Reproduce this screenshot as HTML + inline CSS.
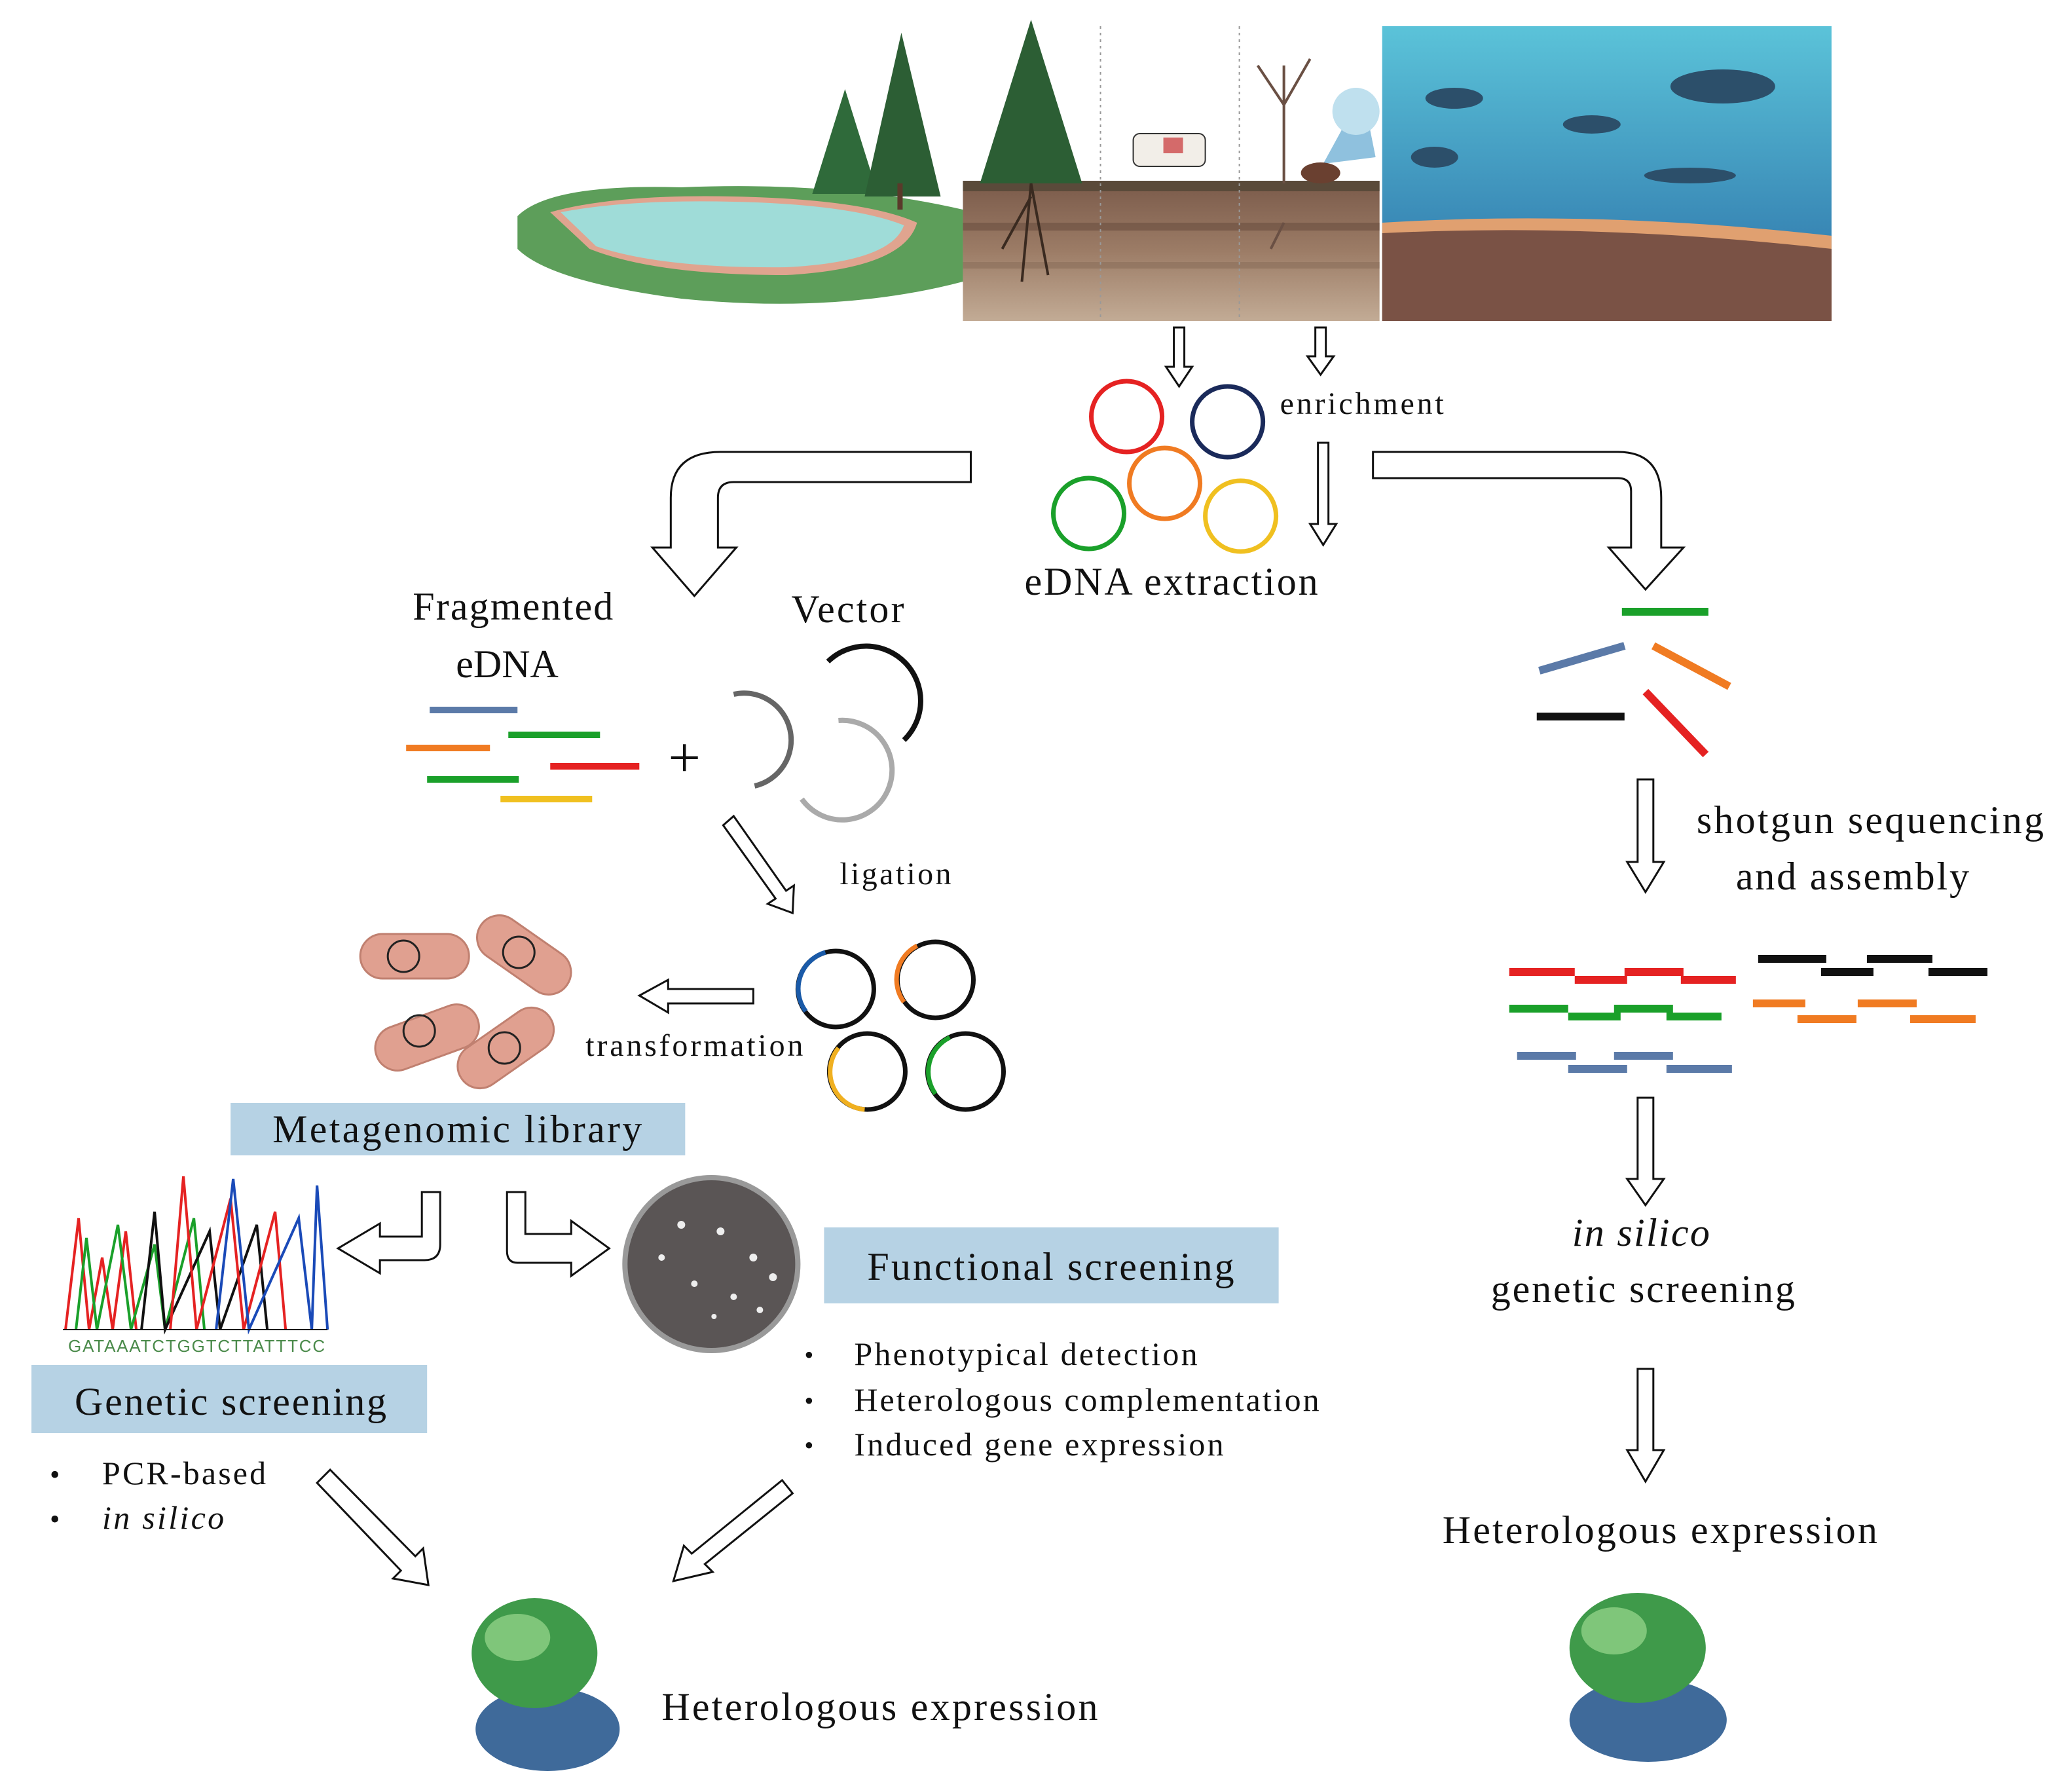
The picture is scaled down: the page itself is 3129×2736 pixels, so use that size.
<!DOCTYPE html>
<html><head><meta charset="utf-8"><style>
html,body{margin:0;padding:0;background:#fff;}
svg{display:block;}
text{font-family:"Liberation Serif",serif;fill:#111;}
</style></head><body>
<svg width="3129" height="2736" viewBox="0 0 1564 1368" preserveAspectRatio="none" xmlns="http://www.w3.org/2000/svg">
<defs>
<linearGradient id="sea" x1="0" y1="0" x2="0" y2="1"><stop offset="0" stop-color="#5bc3d9"/><stop offset="1" stop-color="#2a6ea6"/></linearGradient>
<linearGradient id="soil" x1="0" y1="0" x2="0" y2="1"><stop offset="0" stop-color="#7a5a4a"/><stop offset="0.5" stop-color="#9c7c66"/><stop offset="1" stop-color="#c2ab95"/></linearGradient>
</defs>
<path d="M395 165 Q420 140 520 143 Q640 138 735 160 L735 215 Q640 240 520 228 Q420 215 395 190 Z" fill="#5d9e5a"/>
<path d="M420 162 Q470 148 560 150 Q660 152 700 170 Q690 205 600 210 Q500 210 450 190 Z" fill="#e0a48f"/>
<path d="M428 162 Q480 152 560 154 Q650 156 690 172 Q680 200 600 204 Q505 205 455 188 Z" fill="#9fdcd8"/>
<polygon points="645,68 620,148 670,148" fill="#2f6a3a"/>
<polygon points="688,25 660,150 718,150" fill="#2c5e34"/>
<rect x="685" y="140" width="4" height="20" fill="#5a3a2a"/>
<rect x="735" y="138" width="318" height="107" fill="url(#soil)"/>
<rect x="735" y="138" width="318" height="8" fill="#5a4a3a"/>
<rect x="735" y="170" width="318" height="6" fill="#6a4e40" opacity="0.6"/>
<rect x="735" y="200" width="318" height="5" fill="#8a6e5a" opacity="0.6"/>
<line x1="840" y1="20" x2="840" y2="245" stroke="#999" stroke-dasharray="2,3"/>
<line x1="946" y1="20" x2="946" y2="245" stroke="#999" stroke-dasharray="2,3"/>
<polygon points="787,15 748,140 826,140" fill="#2c5e34"/>
<path d="M787 140 L780 215 M787 140 L800 210 M787 150 L765 190" stroke="#3a2a20" stroke-width="2" fill="none"/>
<rect x="865" y="102" width="55" height="25" rx="5" fill="#f2eee8" stroke="#333"/>
<rect x="888" y="105" width="15" height="12" fill="#d46a6a"/>
<path d="M980 140 L980 50 M980 80 L960 50 M980 80 L1000 45 M980 170 L970 190" stroke="#6a5044" stroke-width="2" fill="none"/>
<path d="M1010 125 L1040 70 L1050 120 Z" fill="#8fc1de"/>
<circle cx="1035" cy="85" r="18" fill="#bfe0ee"/>
<ellipse cx="1008" cy="132" rx="15" ry="8" fill="#6a4030"/>
<rect x="1055" y="20" width="343" height="225" fill="url(#sea)"/>
<path d="M1055 170 Q1220 160 1398 180 L1398 245 L1055 245 Z" fill="#e0a070"/>
<path d="M1055 178 Q1220 170 1398 190 L1398 245 L1055 245 Z" fill="#7a5245"/>
<g fill="#2c4f6a"><ellipse cx="1110" cy="75" rx="22" ry="8"/><ellipse cx="1315" cy="66" rx="40" ry="13"/><ellipse cx="1215" cy="95" rx="22" ry="7"/><ellipse cx="1095" cy="120" rx="18" ry="8"/><ellipse cx="1290" cy="134" rx="35" ry="6"/></g>
<g fill="#fff" stroke="#111" stroke-width="1.5">
<path d="M896 250 h8 v30 h6 l-10 15 l-10 -15 h6 z"/>
<path d="M1004 250 h8 v22 h6 l-10 14 l-10 -14 h6 z"/>
<path d="M1006 338 h8 v62 h6 l-10 16 l-10 -16 h6 z"/>
<path d="M741 345 L741 368 L560 368 Q548 368 548 380 L548 418 L562 418 L530 455 L498 418 L512 418 L512 380 Q512 345 550 345 Z"/>
<path d="M1048 345 L1048 365 L1235 365 Q1245 365 1245 375 L1245 418 L1228 418 L1256 450 L1285 418 L1268 418 L1268 380 Q1268 345 1235 345 Z"/>
<path d="M552 630 L560 623 L600 680 L606 676 L605 697 L586 690 L592 686 Z"/>
<path d="M575 755 L575 766 L510 766 L510 773 L488 760 L510 748 L510 755 Z"/>
<path d="M1250 595 h12 v63 h8 l-14 23 l-14 -23 h8 z"/>
<path d="M1250 838 h12 v62 h8 l-14 20 l-14 -20 h8 z"/>
<path d="M1250 1045 h12 v62 h8 l-14 24 l-14 -24 h8 z"/>
<path d="M322 910 L336 910 L336 950 Q336 962 324 962 L290 962 L290 972 L258 953 L290 934 L290 944 L322 944 Z"/>
<path d="M387 910 L401 910 L401 942 L436 942 L436 932 L465 953 L436 974 L436 964 L395 964 Q387 964 387 955 Z"/>
<path d="M242 1132 L252 1122 L317 1188 L323 1182 L327 1210 L300 1205 L306 1199 Z"/>
<path d="M597 1130 L605 1140 L538 1194 L544 1200 L514 1207 L522 1180 L528 1186 Z"/>
</g>
<g fill="none" stroke-width="3.5">
<circle cx="860" cy="318" r="27" stroke="#e52222"/>
<circle cx="937" cy="322" r="27" stroke="#1a2a5a"/>
<circle cx="889" cy="369" r="27" stroke="#f07b22"/>
<circle cx="831" cy="392" r="27" stroke="#1aa02a"/>
<circle cx="947" cy="394" r="27" stroke="#f0c020"/>
</g>
<text x="977" y="316" font-size="24" textLength="125" lengthAdjust="spacing">enrichment</text>
<text x="782" y="454" font-size="30" textLength="224" lengthAdjust="spacing">eDNA extraction</text>
<text x="315" y="473" font-size="30" textLength="153" lengthAdjust="spacing">Fragmented</text>
<text x="348" y="517" font-size="30">eDNA</text>
<text x="604" y="475" font-size="30" textLength="86" lengthAdjust="spacing">Vector</text>
<g stroke-width="5">
<line x1="328" y1="542" x2="395" y2="542" stroke="#5b7aa8"/>
<line x1="388" y1="561" x2="458" y2="561" stroke="#1aa02a"/>
<line x1="310" y1="571" x2="374" y2="571" stroke="#f07b22"/>
<line x1="420" y1="585" x2="488" y2="585" stroke="#e52222"/>
<line x1="326" y1="595" x2="396" y2="595" stroke="#1aa02a"/>
<line x1="382" y1="610" x2="452" y2="610" stroke="#f0c020"/>
</g>
<text x="510" y="593" font-size="44">+</text>
<g fill="none" stroke-width="4">
<path d="M560 530 A35 35 0 0 1 576 600" stroke="#666"/>
<path d="M632 505 A40 40 0 1 1 690 565" stroke="#111"/>
<path d="M640 550 A38 38 0 1 1 612 610" stroke="#aaa"/>
</g>
<text x="641" y="675" font-size="24" textLength="85" lengthAdjust="spacing">ligation</text>
<g fill="none" stroke-width="3.5">
<circle cx="638" cy="755" r="29" stroke="#111"/><path d="M615 772 A29 29 0 0 1 630 727" stroke="#1a5aa8"/>
<circle cx="714" cy="748" r="29" stroke="#111"/><path d="M690 765 A29 29 0 0 1 700 722" stroke="#f07b22"/>
<circle cx="662" cy="818" r="29" stroke="#111"/><path d="M640 800 A29 29 0 0 0 660 847" stroke="#f0b020"/>
<circle cx="737" cy="818" r="29" stroke="#111"/><path d="M714 835 A29 29 0 0 1 725 792" stroke="#1aa02a"/>
</g>
<text x="447" y="806" font-size="24" textLength="166" lengthAdjust="spacing">transformation</text>
<g fill="#e0a090" stroke="#c08070" stroke-width="1.5">
<rect x="275" y="713" width="83" height="34" rx="17"/>
<rect x="360" y="712" width="80" height="34" rx="17" transform="rotate(35 400 729)"/>
<rect x="285" y="775" width="82" height="34" rx="17" transform="rotate(-20 326 792)"/>
<rect x="345" y="783" width="82" height="34" rx="17" transform="rotate(-35 386 800)"/>
</g>
<g fill="none" stroke="#222" stroke-width="1.5"><circle cx="308" cy="730" r="12"/><circle cx="396" cy="727" r="12"/><circle cx="320" cy="787" r="12"/><circle cx="385" cy="800" r="12"/></g>
<rect x="176" y="842" width="347" height="40" fill="#b6d2e4"/>
<text x="208" y="872" font-size="30" textLength="282" lengthAdjust="spacing">Metagenomic  library</text>
<g fill="none" stroke-width="2">
<path d="M50 1015 L60 930 L68 1015 L78 960 L86 1015 L96 940 L104 1015" stroke="#e52222"/>
<path d="M58 1015 L66 945 L74 1015 L90 935 L100 1015 L118 950 L126 1015 L148 930 L156 1015" stroke="#1aa02a"/>
<path d="M108 1015 L118 925 L126 1015 L160 940 L168 1015 L196 935 L204 1015" stroke="#111"/>
<path d="M130 1015 L140 898 L150 1015 L176 915 L186 1015 L210 925 L218 1015" stroke="#e52222"/>
<path d="M165 1015 L178 900 L190 1015 L228 930 L238 1015 L242 905 L250 1015" stroke="#1a4ab8"/>
</g>
<line x1="48" y1="1015" x2="250" y2="1015" stroke="#111"/>
<text x="52" y="1032" font-size="13" textLength="196" lengthAdjust="spacing" style="font-family:'Liberation Sans',sans-serif;fill:#4a8a4a">GATAAATCTGGTCTTATTTCC</text>
<rect x="24" y="1042" width="302" height="52" fill="#b6d2e4"/>
<text x="57" y="1080" font-size="30" textLength="238" lengthAdjust="spacing">Genetic  screening</text>
<text x="38" y="1133" font-size="22">•</text><text x="78" y="1133" font-size="25" textLength="125" lengthAdjust="spacing">PCR-based</text>
<text x="38" y="1167" font-size="22">•</text><text x="78" y="1167" font-size="25" font-style="italic" textLength="93" lengthAdjust="spacing">in silico</text>
<circle cx="543" cy="965" r="66" fill="#5a5555" stroke="#999" stroke-width="4"/>
<g fill="#eee"><circle cx="520" cy="935" r="3"/><circle cx="550" cy="940" r="3"/><circle cx="575" cy="960" r="3"/><circle cx="530" cy="980" r="2.5"/><circle cx="560" cy="990" r="2.5"/><circle cx="590" cy="975" r="3"/><circle cx="505" cy="960" r="2.5"/><circle cx="545" cy="1005" r="2"/><circle cx="580" cy="1000" r="2.5"/></g>
<rect x="629" y="937" width="347" height="58" fill="#b6d2e4"/>
<text x="662" y="977" font-size="30" textLength="280" lengthAdjust="spacing">Functional  screening</text>
<g font-size="25">
<text x="614" y="1041" font-size="20">•</text><text x="652" y="1042" textLength="262" lengthAdjust="spacing">Phenotypical detection</text>
<text x="614" y="1076" font-size="20">•</text><text x="652" y="1077" textLength="355" lengthAdjust="spacing">Heterologous complementation</text>
<text x="614" y="1110" font-size="20">•</text><text x="652" y="1111" textLength="282" lengthAdjust="spacing">Induced gene expression</text>
</g>
<ellipse cx="418" cy="1320" rx="55" ry="32" fill="#3f6a9a"/>
<ellipse cx="408" cy="1262" rx="48" ry="42" fill="#3f9a4a"/>
<ellipse cx="395" cy="1250" rx="25" ry="18" fill="#7fc67a"/>
<text x="505" y="1313" font-size="30" textLength="333" lengthAdjust="spacing">Heterologous  expression</text>
<g stroke-width="6">
<line x1="1238" y1="467" x2="1304" y2="467" stroke="#1aa02a"/>
<line x1="1175" y1="512" x2="1240" y2="493" stroke="#5b7aa8"/>
<line x1="1262" y1="493" x2="1320" y2="524" stroke="#f07b22"/>
<line x1="1173" y1="547" x2="1240" y2="547" stroke="#111"/>
<line x1="1256" y1="528" x2="1302" y2="576" stroke="#e52222"/>
</g>
<text x="1295" y="636" font-size="30" textLength="265" lengthAdjust="spacing">shotgun  sequencing</text>
<text x="1325" y="679" font-size="30" textLength="178" lengthAdjust="spacing">and assembly</text>
<g fill="none" stroke-width="6">
<path d="M1152 742 h50 M1202 748 h40 M1240 742 h45 M1283 748 h42" stroke="#e52222"/>
<path d="M1152 770 h45 M1197 776 h40 M1232 770 h45 M1272 776 h42" stroke="#1aa02a"/>
<path d="M1158 806 h45 M1197 816 h45 M1232 806 h45 M1272 816 h50" stroke="#5b7aa8"/>
<path d="M1342 732 h52 M1390 742 h40 M1425 732 h50 M1472 742 h45" stroke="#111"/>
<path d="M1338 766 h40 M1372 778 h45 M1418 766 h45 M1458 778 h50" stroke="#f07b22"/>
</g>
<text x="1200" y="951" font-size="30" font-style="italic" textLength="105" lengthAdjust="spacing">in silico</text>
<text x="1138" y="994" font-size="30" textLength="232" lengthAdjust="spacing">genetic  screening</text>
<text x="1101" y="1178" font-size="30" textLength="332" lengthAdjust="spacing">Heterologous  expression</text>
<ellipse cx="1258" cy="1313" rx="60" ry="32" fill="#3f6a9a"/>
<ellipse cx="1250" cy="1258" rx="52" ry="42" fill="#3f9a4a"/>
<ellipse cx="1232" cy="1245" rx="25" ry="18" fill="#7fc67a"/>
</svg>
</body></html>
